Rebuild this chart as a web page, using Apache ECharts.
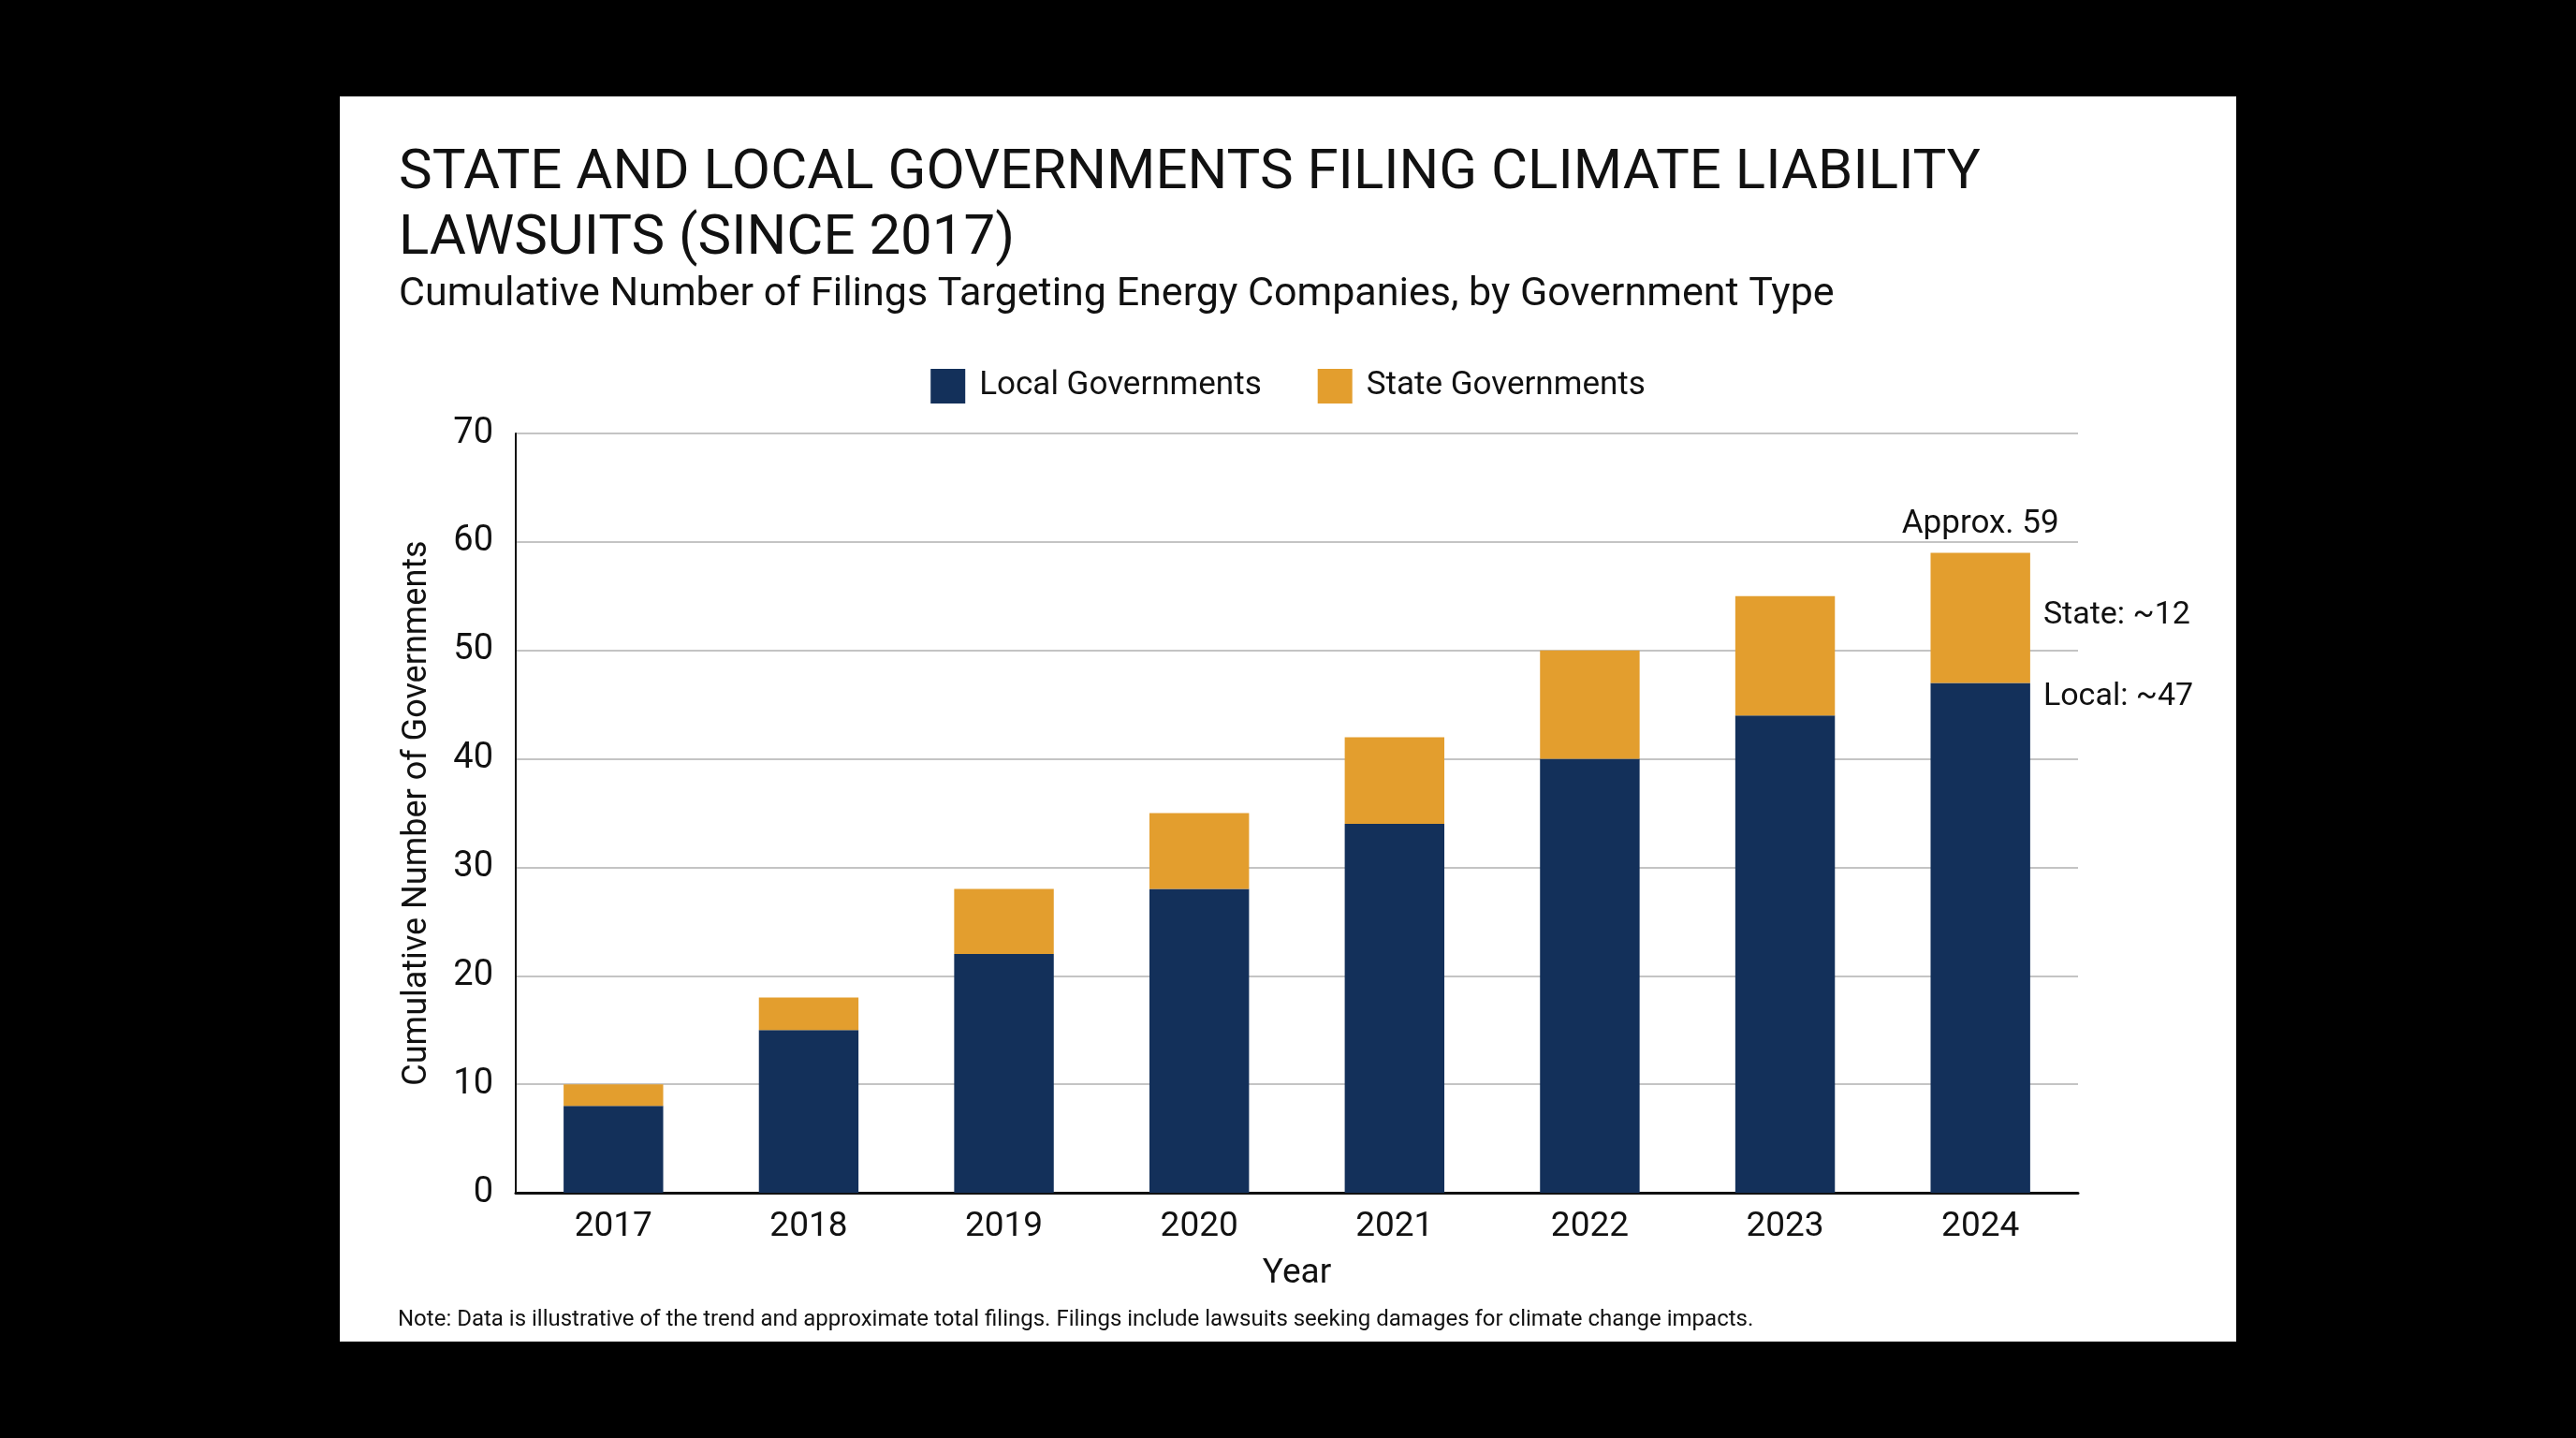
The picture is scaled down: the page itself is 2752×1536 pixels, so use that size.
<!DOCTYPE html>
<html>
<head>
<meta charset="utf-8">
<script src="https://cdn.jsdelivr.net/npm/echarts@6/dist/echarts.min.js"></script>
<style>
html,body{margin:0;padding:0;background:#000;}
#c{width:2752px;height:1536px;}
</style>
</head>
<body>
<div id="c"></div>
<script>
const years = ['2017','2018','2019','2020','2021','2022','2023','2024'];
const localGov = [8, 15, 22, 28, 34, 40, 44, 47];
const stateGov = [2, 3, 6, 7, 8, 10, 11, 12];
const seriesNames = ['Local Governments', 'State Governments'];
const titleLines = ['STATE AND LOCAL GOVERNMENTS FILING CLIMATE LIABILITY', 'LAWSUITS (SINCE 2017)'];
const subtitle = 'Cumulative Number of Filings Targeting Energy Companies, by Government Type';
const noteText = 'Note: Data is illustrative of the trend and approximate total filings. Filings include lawsuits seeking damages for climate change impacts.';
const yAxisName = 'Cumulative Number of Governments';
const xAxisName = 'Year';

const FONT = 'Roboto, "Liberation Sans", sans-serif';
const NAVY = '#13305a';
const ORANGE = '#e39e2e';
const last = years.length - 1;

const chart = echarts.init(document.getElementById('c'), null, {renderer: 'canvas'});
chart.setOption({
  backgroundColor: '#000',
  animation: false,
  textStyle: {fontFamily: FONT},
  graphic: [
    {type: 'rect', z: -10, shape: {x: 363, y: 103, width: 2026, height: 1330}, style: {fill: '#ffffff'}},
    {type: 'text', x: 426, y: 186, style: {text: titleLines[0], font: '400 60px ' + FONT, fill: '#111', textVerticalAlign: 'middle'}},
    {type: 'text', x: 426, y: 256, style: {text: titleLines[1], font: '400 60px ' + FONT, fill: '#111', textVerticalAlign: 'middle'}},
    {type: 'text', x: 426, y: 315, style: {text: subtitle, font: '400 43px ' + FONT, fill: '#111', textVerticalAlign: 'middle'}},
    {type: 'text', x: 425, y: 1410, style: {text: noteText, font: '400 24px ' + FONT, fill: '#111', textVerticalAlign: 'middle'}}
  ],
  legend: {
    data: seriesNames,
    left: 'center',
    top: 389,
    itemWidth: 37,
    itemHeight: 37,
    itemGap: 60,
    icon: 'rect',
    textStyle: {fontSize: 35, color: '#111', fontFamily: FONT, padding: [0, 0, 0, 10]}
  },
  grid: {left: 551, right: 532, top: 463, bottom: 262, containLabel: false},
  xAxis: {
    type: 'category',
    data: years,
    name: xAxisName,
    nameLocation: 'middle',
    nameGap: 68,
    nameTextStyle: {fontSize: 37, color: '#111', fontFamily: FONT},
    axisLine: {show: true, lineStyle: {color: '#111', width: 3}},
    axisTick: {show: false},
    axisLabel: {fontSize: 37, color: '#111', margin: 18, fontFamily: FONT},
    splitLine: {show: false}
  },
  yAxis: {
    type: 'value',
    min: 0,
    max: 70,
    interval: 10,
    name: yAxisName,
    nameLocation: 'middle',
    nameRotate: 90,
    nameGap: 87,
    nameTextStyle: {fontSize: 36, color: '#111', fontFamily: FONT},
    axisLine: {show: true, lineStyle: {color: '#111', width: 2}},
    axisTick: {show: false},
    axisLabel: {fontSize: 38, color: '#111', margin: 24, fontFamily: FONT},
    splitLine: {show: true, lineStyle: {color: '#c4c4c4', width: 2}}
  },
  series: [
    {
      name: seriesNames[0],
      type: 'bar',
      stack: 'total',
      barWidth: '51%',
      data: localGov,
      itemStyle: {color: NAVY},
      label: {
        show: true,
        position: ['100%', 0],
        offset: [14, 15],
        align: 'left',
        verticalAlign: 'middle',
        fontSize: 34,
        color: '#111',
        fontFamily: FONT,
        formatter: p => p.dataIndex === last ? 'Local: ~' + p.value : ''
      }
    },
    {
      name: seriesNames[1],
      type: 'bar',
      stack: 'total',
      barWidth: '51%',
      data: stateGov,
      itemStyle: {color: ORANGE},
      label: {
        show: true,
        position: 'right',
        offset: [9, -2],
        fontSize: 34,
        color: '#111',
        fontFamily: FONT,
        formatter: p => p.dataIndex === last ? 'State: ~' + p.value : ''
      }
    },
    {
      name: 'total',
      type: 'bar',
      stack: 'total',
      barWidth: '51%',
      data: years.map(() => 0),
      itemStyle: {color: 'transparent'},
      silent: true,
      tooltip: {show: false},
      label: {
        show: true,
        position: 'top',
        distance: 13,
        fontSize: 35,
        color: '#111',
        fontFamily: FONT,
        formatter: p => p.dataIndex === last ? 'Approx. ' + (localGov[last] + stateGov[last]) : ''
      }
    }
  ]
});
</script>
</body>
</html>
